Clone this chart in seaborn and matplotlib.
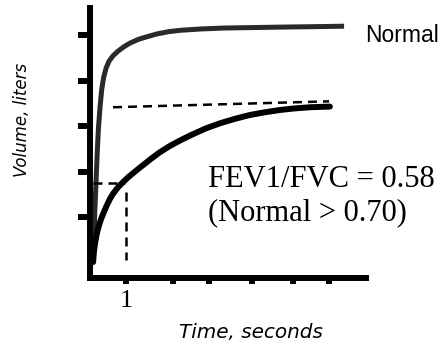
import numpy as np
import pandas as pd
import matplotlib
matplotlib.use("Agg")
import matplotlib.pyplot as plt
import seaborn as sns

# spirogram: time (s) vs volume (liters)
normal_t = [0.19, 0.21, 0.23, 0.26, 0.29, 0.32, 0.36, 0.40, 0.45, 0.51, 0.58,
            0.68, 0.80, 0.95, 1.10, 1.30, 1.52, 1.76, 2.05, 2.33, 2.85, 3.41,
            4.10, 4.79, 5.60, 6.37]
normal_v = [0.00, 0.55, 1.10, 1.75, 2.40, 2.95, 3.42, 3.80, 4.08, 4.28, 4.43,
            4.55, 4.65, 4.75, 4.83, 4.91, 4.97, 5.03, 5.08, 5.11, 5.14, 5.16,
            5.17, 5.18, 5.19, 5.20]

obstr_t = [0.19, 0.21, 0.24, 0.27, 0.31, 0.36, 0.41, 0.47, 0.53, 0.60, 0.68,
           0.80, 0.93, 1.05, 1.17, 1.35, 1.59, 1.83, 2.08, 2.33, 2.58, 2.95,
           3.32, 3.70, 4.05, 4.42, 4.79, 5.15, 5.53, 6.02]
obstr_v = [0.02, 0.25, 0.44, 0.60, 0.75, 0.90, 1.02, 1.15, 1.27, 1.40, 1.52,
           1.66, 1.78, 1.88, 1.97, 2.10, 2.27, 2.43, 2.57, 2.69, 2.80, 2.95,
           3.07, 3.17, 3.25, 3.31, 3.36, 3.395, 3.42, 3.435]

fvc_t = [0.68, 6.0]
fvc_v = [3.42, 3.55]
fev1_h_t = [0.19, 0.98]
fev1_h_v = [1.76, 1.76]
fev1_v_t = [1.0, 1.0]
fev1_v_v = [1.55, 0.07]

xtick_pos = [1, 2.15, 3.05, 4.1, 5.1, 6.0]
xtick_labels = ["1", "", "", "", "", ""]
ytick_pos = [1, 2, 3, 4, 5]

sns.set_theme(style="white")
plt.rcParams["text.color"] = "black"
plt.rcParams["axes.labelcolor"] = "black"
plt.rcParams["xtick.color"] = "black"
plt.rcParams["ytick.color"] = "black"

fig = plt.figure(figsize=(4.48, 3.47), dpi=100)
ax = fig.add_axes([90 / 448, 69 / 347, 276 / 448, 270 / 347])

df_n = pd.DataFrame({"t": normal_t, "v": normal_v})
df_o = pd.DataFrame({"t": obstr_t, "v": obstr_v})
sns.lineplot(data=df_n, x="t", y="v", sort=False, estimator=None, ax=ax,
             color="#2a2a2a", lw=3.6, solid_capstyle="butt",
             solid_joinstyle="round")
sns.lineplot(data=df_o, x="t", y="v", sort=False, estimator=None, ax=ax,
             color="black", lw=4.3, solid_capstyle="round",
             solid_joinstyle="round")

for xs, ys in [(fvc_t, fvc_v), (fev1_h_t, fev1_h_v), (fev1_v_t, fev1_v_v)]:
    ax.plot(xs, ys, color="black", lw=1.8, dashes=(3.6, 2.4))

ax.set_xlim(0.113, 6.91)
ax.set_ylim(-0.33, 5.6)

for side in ["top", "right"]:
    ax.spines[side].set_visible(False)
for side in ["left", "bottom"]:
    ax.spines[side].set_linewidth(4.3)
    ax.spines[side].set_color("black")

ax.set_xticks(xtick_pos)
ax.set_xticklabels(xtick_labels, fontfamily="Liberation Serif", fontsize=19,
                   color="black")
ax.set_yticks(ytick_pos)
ax.set_yticklabels([])
ax.tick_params(axis="x", direction="out", length=4.3, width=4.3, color="black",
               pad=4.2, bottom=True)
ax.tick_params(axis="y", direction="out", length=8.6, width=4.3, color="black",
               left=True)

ax.set_xlabel("Time, seconds", fontfamily="DejaVu Sans", style="italic",
              fontsize=14.4, color="black")
ax.xaxis.set_label_coords(0.583, -0.2)
ax.xaxis.label.set_va("center")
ax.set_ylabel("Volume, liters", fontfamily="DejaVu Sans", style="italic",
              fontsize=12, color="black")
ax.yaxis.set_label_coords(-0.246, 0.585)
ax.yaxis.label.set_va("center")

fig.text(365 / 448, 1 - 42 / 347, "Normal", fontfamily="Liberation Sans",
         fontsize=16.5, va="baseline", ha="left", color="black")
fig.text(208 / 448, 1 - 187 / 347, "FEV1/FVC = 0.58",
         fontfamily="Liberation Serif", fontsize=22, va="baseline", ha="left",
         color="black")
fig.text(208 / 448, 1 - 220 / 347, "(Normal > 0.70)",
         fontfamily="Liberation Serif", fontsize=22, va="baseline", ha="left",
         color="black")

fig.savefig("out.png", dpi=100)
